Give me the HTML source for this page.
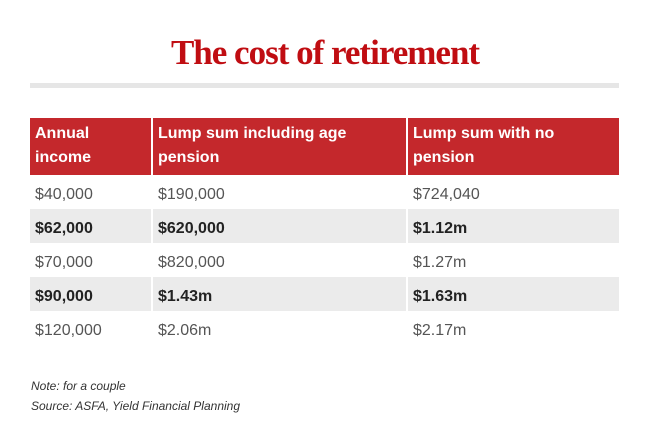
<!DOCTYPE html>
<html><head><style>
body{margin:0;width:650px;height:445px;background:#fff;font-family:"Liberation Sans",sans-serif;position:relative;overflow:hidden}
h1{position:absolute;top:33px;left:0;width:650px;margin:0;text-align:center;font-family:"Liberation Serif",serif;font-weight:bold;font-size:35px;color:#c00d12;letter-spacing:-1px}
.bar{position:absolute;left:30px;top:83px;width:589px;height:5px;background:#e6e6e6}
table{position:absolute;left:30px;top:118px;width:589px;border-collapse:collapse}
th{background:#c4282c;color:#fff;text-align:left;font-weight:bold;font-size:16px;line-height:24px;padding:4px 5px 5px;vertical-align:top;border-left:2px solid #fff}
th:first-child{border-left:none}
td{font-size:16px;color:#555;padding:5px 5px 0;height:29px;border-left:2px solid #fff}
td:first-child{border-left:none}
tr.g td{background:#ebebeb;color:#222;font-weight:bold}
.n{position:absolute;left:31px;font-style:italic;font-size:12px;color:#333}
</style></head><body>
<h1>The cost of retirement</h1>
<div class="bar"></div>
<table>
<tr><th style="width:111px">Annual<br>income</th><th style="width:243px">Lump sum including age<br>pension</th><th>Lump sum with no<br>pension</th></tr>
<tr><td>$40,000</td><td>$190,000</td><td>$724,040</td></tr>
<tr class="g"><td>$62,000</td><td>$620,000</td><td>$1.12m</td></tr>
<tr><td>$70,000</td><td>$820,000</td><td>$1.27m</td></tr>
<tr class="g"><td>$90,000</td><td>$1.43m</td><td>$1.63m</td></tr>
<tr><td>$120,000</td><td>$2.06m</td><td>$2.17m</td></tr>
</table>
<div class="n" style="top:379px">Note: for a couple</div>
<div class="n" style="top:399px">Source: ASFA, Yield Financial Planning</div>
</body></html>
